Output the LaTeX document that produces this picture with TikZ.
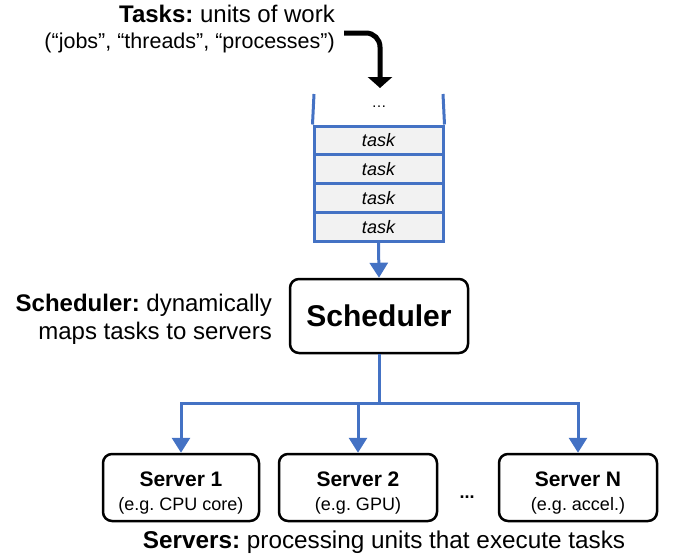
\documentclass[tikz,border=0pt]{standalone}
\usepackage{fontspec}
\setmainfont{Liberation Sans}
\usetikzlibrary{arrows.meta}
\definecolor{qblue}{HTML}{4472C4}
\definecolor{cellgray}{HTML}{F2F2F2}
\frenchspacing
\begin{document}
\begin{tikzpicture}[x=1pt,y=-1pt,
  cell/.style={draw=qblue, line width=3pt, fill=cellgray, minimum width=129pt, minimum height=28.75pt, inner sep=0pt, font=\fontsize{18}{20}\selectfont\itshape},
  box/.style={draw=black, line width=2.5pt, rounded corners=9pt, fill=white, inner sep=0pt, align=center},
  blueline/.style={draw=qblue, line width=3pt},
  bluearrow/.style={blueline, -{Triangle[width=18pt,length=15pt]}},
  lbl/.style={inner sep=0pt, anchor=base east}]
\useasboundingbox (0,0) rectangle (673,554);

% task label
\node[lbl, font=\fontsize{24}{28}\selectfont] (tl1) at (335,22.7) {\textbf{Tasks:} units of work};
\node[lbl, font=\fontsize{21.5}{26}\selectfont] (tl2) at (335,48.5) {(“jobs”, “threads”, “processes”)};

% queue
\node[cell] (t1) at (378.5,140.375) {task};
\node[cell] (t2) at (378.5,169.125) {task};
\node[cell] (t3) at (378.5,197.875) {task};
\node[cell] (t4) at (378.5,226.625) {task};
\coordinate (wl) at (314,94);
\coordinate (wr) at (443,94);
\draw[blueline] (wl) -- (t1.north west);
\draw[blueline] (wr) -- (t1.north east);
\node[font=\fontsize{15}{18}\selectfont] (qdots) at (379,107) {…};

% incoming arrow
\coordinate (ain) at (344,33);
\coordinate (aout) at (380,88);
\draw[line width=5pt, rounded corners=14pt, -{Triangle[width=24pt,length=11pt]}] (ain) -| (aout);

% scheduler
\node[box, minimum width=178pt, minimum height=74pt, font=\fontsize{30}{34}\selectfont\bfseries] (sched) at (379,316) {Scheduler};
\node[lbl, font=\fontsize{24}{28}\selectfont] (sl1) at (272,311) {\textbf{Scheduler:} dynamically};
\node[lbl, font=\fontsize{24}{28}\selectfont] (sl2) at (272,339) {maps tasks to servers};
\draw[bluearrow] (t4.south) -- (sched.north);

% servers
\node[box, minimum width=156pt, minimum height=67pt, font=\fontsize{21}{24}\selectfont] (s1) at (181,487.5) {\rule{0pt}{26pt}\textbf{Server 1}\\{\fontsize{18}{21}\selectfont (e.g. CPU core)}};
\node[box, minimum width=158pt, minimum height=67pt, font=\fontsize{21}{24}\selectfont] (s2) at (358,487.5) {\rule{0pt}{26pt}\textbf{Server 2}\\{\fontsize{18}{21}\selectfont (e.g. GPU)}};
\node[box, minimum width=158pt, minimum height=67pt, font=\fontsize{21}{24}\selectfont] (sN) at (578,487.5) {\rule{0pt}{26pt}\textbf{Server N}\\{\fontsize{18}{21}\selectfont (e.g. accel.)}};
\node[font=\fontsize{18}{20}\selectfont\bfseries, inner sep=0pt] (sdots) at (467,497) {...};
\node[inner sep=0pt, anchor=base, font=\fontsize{24.3}{28}\selectfont] (srvlbl) at (384,548.5) {\textbf{Servers:} processing units that execute tasks};

\coordinate (br) at (379,403);
\draw[blueline] (sched.south) -- (br);
\draw[bluearrow] (br) -| (s1.north);
\draw[bluearrow] (br) -| (s2.north);
\draw[bluearrow] (br) -| (sN.north);
\end{tikzpicture}
\end{document}
